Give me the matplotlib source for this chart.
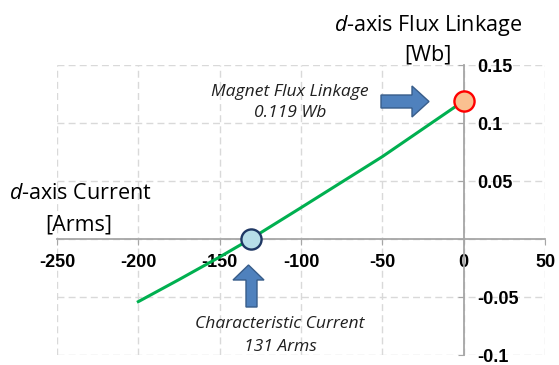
import matplotlib
matplotlib.use("Agg")
import matplotlib.pyplot as plt
from matplotlib.patches import Polygon

# d-axis flux linkage vs d-axis current
id_current = [-200, -175, -150, -131, -100, -75, -50, -25, 0]
flux_d = [-0.054, -0.035, -0.0155, 0.0, 0.027, 0.049, 0.071, 0.095, 0.119]

char_current = -131
magnet_flux = 0.119

x_ticks = [-250, -200, -150, -100, -50, 0, 50]
y_ticks = [-0.1, -0.05, 0, 0.05, 0.1, 0.15]
y_tick_labels = ["-0.1", "-0.05", "", "0.05", "0.1", "0.15"]
x_tick_labels = ["-250", "-200", "-150", "-100", "-50", "0", "50"]

plt.rcParams["mathtext.fontset"] = "custom"
plt.rcParams["mathtext.rm"] = "Open Sans"
plt.rcParams["mathtext.it"] = "Open Sans:italic"

W, H = 559, 365
fig = plt.figure(figsize=(W / 100, H / 100), dpi=100)
ax = fig.add_axes([57 / W, 1 - 355 / H, (545 - 57) / W, (355 - 65) / H])

ax.set_xlim(-250, 50)
ax.set_ylim(-0.1, 0.15)
ax.set_xticks(x_ticks)
ax.set_xticklabels(x_tick_labels)
ax.set_yticks(y_ticks)
ax.set_yticklabels(y_tick_labels)

grid_col = "#d9d9d9"
ax.grid(True, color=grid_col, linestyle=(0, (5, 3)), linewidth=1.0)
ax.set_axisbelow(True)

axis_col = "#a6a6a6"
for s in ("left", "right", "bottom"):
    ax.spines[s].set_position(("data", 0))
ax.spines["right"].set_visible(False)
ax.spines["top"].set_visible(False)
ax.spines["left"].set_color(axis_col)
ax.spines["bottom"].set_color(axis_col)
ax.spines["left"].set_linewidth(1.3)
ax.spines["bottom"].set_linewidth(1.3)

tick_font = dict(family="Liberation Sans", weight="bold", size=13)
ax.tick_params(axis="y", left=True, right=False, labelleft=False, labelright=True,
               direction="out", length=4, color=axis_col, pad=5.5)
ax.tick_params(axis="x", bottom=True, top=False, direction="out", length=4,
               color=axis_col, pad=7)
for lab in ax.get_xticklabels() + ax.get_yticklabels():
    lab.set_fontproperties(tick_font)

ax.plot(id_current, flux_d, color="#00b050", linewidth=2.2, zorder=3)
ax.plot([char_current], [0], marker="o", markersize=14.5, markerfacecolor="#b7dee8",
        markeredgecolor="#1f3864", markeredgewidth=1.7, zorder=4, clip_on=False)
ax.plot([0], [magnet_flux], marker="o", markersize=14.5, markerfacecolor="#fac090",
        markeredgecolor="#ff0000", markeredgewidth=1.7, zorder=4, clip_on=False)


def px(x, y):
    return (x / W, 1 - y / H)


arrow_face = "#4f81bd"
arrow_edge = "#385d8a"
right_arrow = [px(381, 95), px(412, 95), px(412, 86), px(429, 101.5),
               px(412, 117), px(412, 108), px(381, 108)]
up_arrow = [px(246, 307), px(246, 280), px(233, 280), px(248.5, 265),
            px(264, 280), px(257, 280), px(257, 307)]
for pts in (right_arrow, up_arrow):
    fig.add_artist(Polygon(pts, closed=True, transform=fig.transFigure,
                           facecolor=arrow_face, edgecolor=arrow_edge, linewidth=1.0))

note = dict(family="Open Sans", style="italic", size=12.6, color="#202020",
            ha="center", va="baseline", transform=fig.transFigure)
fig.text(*px(290, 95.5), "Magnet Flux Linkage", **note)
fig.text(*px(290, 116.5), f"{magnet_flux:.3f} Wb", **note)
fig.text(*px(280, 328.5), "Characteristic Current", **note)
fig.text(*px(280, 351), f"{abs(char_current)} Arms", **note)

title = dict(family="Open Sans", size=15.5, color="black", ha="center", va="baseline",
             transform=fig.transFigure)
fig.text(*px(428, 31.5), r"$\mathit{d}$-axis Flux Linkage", **title)
fig.text(*px(428, 61), "[Wb]", **title)
fig.text(*px(80, 198.5), r"$\mathit{d}$-axis Current", **title)
fig.text(*px(79, 231), "[Arms]", **title)

fig.savefig("out.png", dpi=100)
